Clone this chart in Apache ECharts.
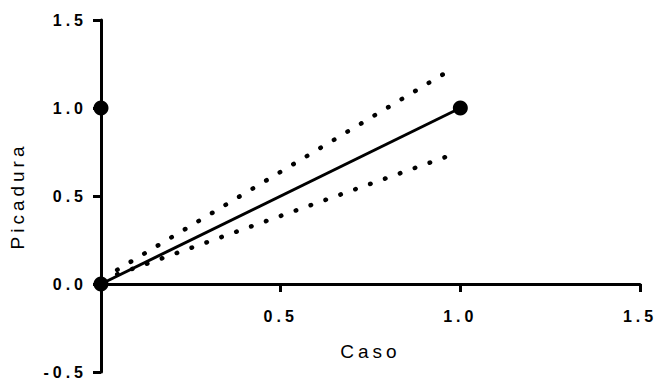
<!DOCTYPE html>
<html><head><meta charset="utf-8">
<script src="https://cdn.jsdelivr.net/npm/echarts@6/dist/echarts.min.js"></script>
<style>
html,body{margin:0;padding:0;background:#fff}
#c{width:657px;height:379px}
#c text{letter-spacing:4px}
</style></head><body><div id="c"></div>
<script>
const pointsX = [0, 0, 1];
const pointsY = [0, 1, 1];
const fitX = [0, 1];
const fitY = [0, 1];
const upperX = [0.045, 0.963];
const upperY = [0.08, 1.205];
const lowerX = [0.045, 0.969];
const lowerY = [0.055, 0.729];
const xTickLabels = ['0.5', '1.0', '1.5'];
const yTickLabels = ['-0.5', '0.0', '0.5', '1.0', '1.5'];

const zip = (a, b) => a.map((v, i) => [v, b[i]]);
const chart = echarts.init(document.getElementById('c'), null, {renderer: 'svg'});
const axisCommon = {
  type: 'value', interval: 0.5,
  splitLine: {show: false},
  axisLine: {lineStyle: {color: '#000', width: 3}},
  axisTick: {length: 8, lineStyle: {color: '#000', width: 3}},
  axisLabel: {color: '#000', fontFamily: 'Liberation Sans, Arial, sans-serif', fontWeight: 'bold', fontSize: 16,
              formatter: v => v.toFixed(1)},
  nameLocation: 'middle',
  nameTextStyle: {color: '#000', fontFamily: 'Liberation Sans, Arial, sans-serif', fontSize: 19}
};
chart.setOption({
  animation: false,
  grid: {left: 101, right: 17, top: 20, bottom: 7, containLabel: false, outerBoundsMode: 'none'},
  xAxis: Object.assign({}, axisCommon, {
    min: 0, max: 1.5, name: 'Caso', nameGap: -30,
    axisLine: {onZero: true, lineStyle: {color: '#000', width: 3}},
    axisLabel: Object.assign({}, axisCommon.axisLabel, {margin: -64, showMinLabel: false,
      formatter: v => xTickLabels.includes(v.toFixed(1)) ? v.toFixed(1) : ''})
  }),
  yAxis: Object.assign({}, axisCommon, {
    min: -0.5, max: 1.5, name: 'Picadura', nameGap: 74,
    axisLine: {onZero: false, lineStyle: {color: '#000', width: 3}},
    axisLabel: Object.assign({}, axisCommon.axisLabel, {margin: 14,
      formatter: v => yTickLabels.includes(v.toFixed(1)) ? v.toFixed(1) : ''})
  }),
  series: [
    {type: 'line', data: zip(fitX, fitY), symbol: 'none', lineStyle: {color: '#000', width: 3}},
    {type: 'line', data: zip(upperX, upperY), symbol: 'none',
     lineStyle: {color: '#000', width: 4.5, type: [0.5, 15.3], cap: 'round'}},
    {type: 'line', data: zip(lowerX, lowerY), symbol: 'none',
     lineStyle: {color: '#000', width: 4.5, type: [0.5, 15.3], cap: 'round'}},
    {type: 'scatter', data: zip(pointsX, pointsY), symbolSize: 15, itemStyle: {color: '#000', opacity: 1}}
  ]
});
</script></body></html>
